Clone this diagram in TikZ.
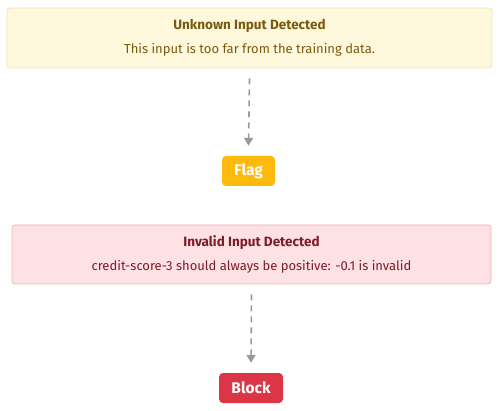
\documentclass[tikz,border=0pt]{standalone}
\usepackage{fontspec}
\setmainfont{Fira Sans}
\usetikzlibrary{arrows.meta}
\definecolor{ybg}{HTML}{FEF8DD}
\definecolor{ybd}{HTML}{F3E3A6}
\definecolor{ytx}{HTML}{7A5A0E}
\definecolor{yfl}{HTML}{FDBA0D}
\definecolor{rbg}{HTML}{FDE1E4}
\definecolor{rbd}{HTML}{F2B5BB}
\definecolor{rtx}{HTML}{7D1D27}
\definecolor{rfl}{HTML}{DC3545}
\definecolor{arr}{HTML}{999999}
\begin{document}
\begin{tikzpicture}[x=1pt,y=-1pt,
  panel/.style={draw, line width=0.8pt, rounded corners=3pt, minimum height=60pt, align=center, font=\fontsize{13}{24}\selectfont},
  tag/.style={rounded corners=4pt, text=white, font=\fontsize{15.5}{18}\selectfont\bfseries, minimum height=30pt, inner xsep=7pt},
  conn/.style={draw=arr, line width=1.6pt, dash pattern=on 6pt off 5pt, -{Triangle[length=8pt,width=9pt]}}]
\useasboundingbox (0,0) rectangle (500,411);
\node[panel, fill=ybg, draw=ybd, text=ytx, minimum width=485pt] (u) at (249.5,38) {{\fontsize{13.5}{24}\selectfont\bfseries Unknown Input Detected}\\This input is too far from the training data.};
\node[tag, fill=yfl, minimum width=53pt] (f) at (248.5,171) {Flag};
\node[panel, fill=rbg, draw=rbd, text=rtx, minimum width=479pt, minimum height=59pt] (i) at (251.5,254.5) {{\fontsize{13.5}{24}\selectfont\bfseries Invalid Input Detected}\\credit-score-3 should always be positive: -0.1 is invalid};
\node[tag, fill=rfl, minimum width=64pt] (b) at (251,388) {Block};
\draw[conn] ([yshift=-10pt]u.south) -- ([yshift=10pt]f.north);
\draw[conn] ([yshift=-10pt]i.south) -- ([yshift=10pt]b.north);
\end{tikzpicture}
\end{document}
